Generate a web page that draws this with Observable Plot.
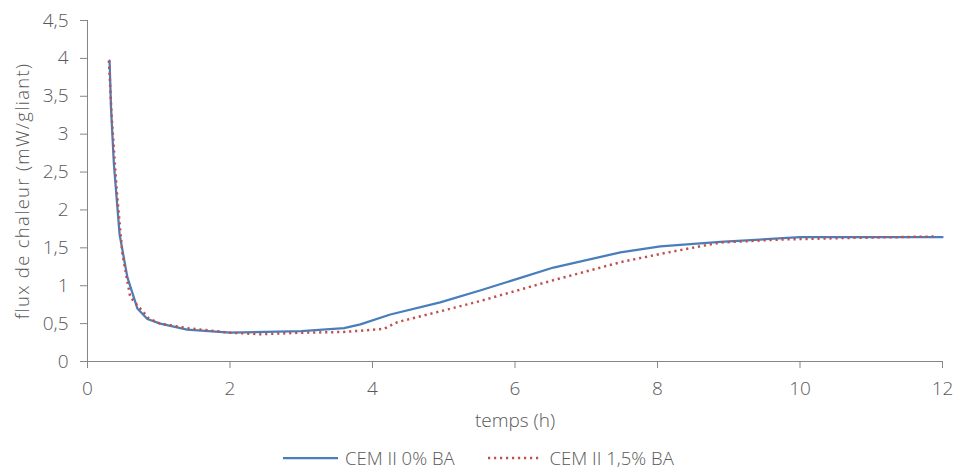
<!DOCTYPE html>
<html>
<head>
<meta charset="utf-8">
<script src="https://cdn.jsdelivr.net/npm/d3@7"></script>
<script src="https://cdn.jsdelivr.net/npm/@observablehq/plot@0.6"></script>
<style>
  html, body { margin: 0; padding: 0; background: #fff; }
  body { width: 957px; height: 471px; overflow: hidden; font-family: "Open Sans", "Segoe UI", sans-serif; }
  #chart svg { display: block; }
  #legend { display: flex; justify-content: flex-start; align-items: center; height: 20px; line-height: 20px; margin-top: 8px; padding-left: 283px; color: #595959; font-size: 18.5px; font-weight: 300; }
  #legend .item { display: flex; align-items: center; height: 20px; }
  #legend .item + .item { margin-left: 33px; }
  .ylab { letter-spacing: 1.3px; }
</style>
</head>
<body>
<div id="chart"></div>
<div id="legend"></div>
<script>
// Series: CEM II 0% BA
const time0 = [0.31, 0.33, 0.37, 0.45, 0.56, 0.70, 0.84, 1.02, 1.40, 2.0, 2.5, 3.0, 3.6, 3.83, 4.25, 4.95, 5.52, 6.54, 7.48, 8.04, 8.88, 10.0, 12.0];
const flux0 = [3.97, 3.35, 2.61, 1.68, 1.11, 0.70, 0.56, 0.50, 0.42, 0.38, 0.39, 0.40, 0.44, 0.49, 0.62, 0.78, 0.94, 1.24, 1.44, 1.52, 1.58, 1.64, 1.64];
// Series: CEM II 1,5% BA
const time15 = [0.30, 0.34, 0.41, 0.49, 0.60, 0.72, 0.86, 1.02, 1.40, 2.0, 2.43, 3.0, 3.6, 4.16, 4.35, 4.86, 5.52, 6.45, 7.48, 8.04, 8.88, 9.73, 10.66, 11.93];
const flux15 = [3.97, 3.22, 2.26, 1.42, 0.85, 0.72, 0.57, 0.50, 0.44, 0.38, 0.36, 0.38, 0.39, 0.43, 0.52, 0.64, 0.80, 1.05, 1.31, 1.42, 1.57, 1.61, 1.63, 1.65];
const seriesNames = ["CEM II 0% BA", "CEM II 1,5% BA"];
const xTicks = [0, 2, 4, 6, 8, 10, 12];
const yTicks = [0, 0.5, 1, 1.5, 2, 2.5, 3, 3.5, 4, 4.5];
const xLabel = "temps (h)";
const yLabel = "flux de chaleur (mW/gliant)";

const blue = "#4a7ebb";
const red = "#c0504d";
const axisGrey = "#868686";
const textGrey = "#595959";

const s0 = time0.map((t, i) => ({t, v: flux0[i]}));
const s15 = time15.map((t, i) => ({t, v: flux15[i]}));
const fmt = d => String(d).replace(".", ",");

const chart = Plot.plot({
  width: 957,
  height: 440,
  marginLeft: 87,
  marginRight: 15,
  marginTop: 20,
  marginBottom: 79,
  style: {fontFamily: '"Open Sans", sans-serif', background: "#fff"},
  x: {domain: [0, 12]},
  y: {domain: [0, 4.5]},
  marks: [
    Plot.ruleY([0], {stroke: axisGrey, strokeWidth: 1}),
    Plot.ruleX([0], {stroke: axisGrey, strokeWidth: 1}),
    Plot.axisX({ticks: xTicks, tickFormat: fmt, tickSize: 7, tickPadding: 13, stroke: axisGrey, fill: textGrey, fontSize: 19, fontWeight: 300, label: null}),
    Plot.axisY({ticks: yTicks, tickFormat: fmt, tickSize: 7, tickPadding: 12, stroke: axisGrey, fill: textGrey, fontSize: 19, fontWeight: 300, label: null}),
    Plot.text([xLabel], {frameAnchor: "bottom", dy: 65, fill: textGrey, fontSize: 19, fontWeight: 300}),
    Plot.text([yLabel], {frameAnchor: "left", textAnchor: "middle", dx: -64, rotate: -90, fill: textGrey, fontSize: 18.5, fontWeight: 300, className: "ylab"}),
    Plot.line(s0, {x: "t", y: "v", stroke: blue, strokeWidth: 2.25}),
    Plot.line(s15, {x: "t", y: "v", stroke: red, strokeWidth: 2.5, strokeDasharray: "2.2,3.8", strokeLinecap: "butt"})
  ]
});
document.getElementById("chart").appendChild(chart);

const legend = document.getElementById("legend");
const swatches = [
  {color: blue, dash: null, w: 2.25, len: 55, gap: 7},
  {color: red, dash: "2.2,3.8", w: 2.5, len: 53, gap: 9}
];
seriesNames.forEach((name, i) => {
  const item = document.createElement("div");
  item.className = "item";
  const sw = swatches[i];
  item.innerHTML = `<svg width="${sw.len}" height="10" style="display:block;margin-right:${sw.gap}px"><line x1="0" x2="${sw.len}" y1="5" y2="5" stroke="${sw.color}" stroke-width="${sw.w}" ${sw.dash ? `stroke-dasharray="${sw.dash}"` : ""}/></svg><span>${name}</span>`;
  legend.appendChild(item);
});
</script>
</body>
</html>
